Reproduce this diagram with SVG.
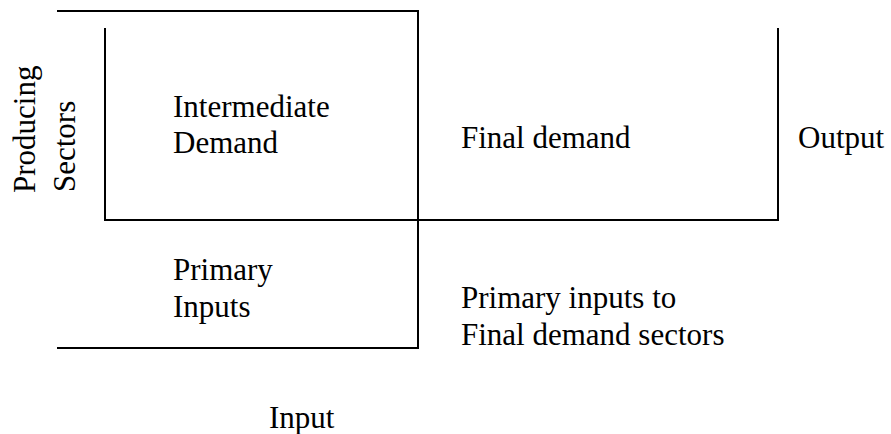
<svg xmlns="http://www.w3.org/2000/svg" width="891" height="434" viewBox="0 0 891 434">
<style>
.ln{stroke:#000;stroke-width:2;fill:none;stroke-linecap:square}
.t{font-family:"Liberation Serif","Times New Roman",serif;font-size:31px;fill:#000}
</style>
<rect width="891" height="434" fill="#fff"/>
<g id="connectors">
<polyline class="ln" points="58,11 418,11 418,348 58,348"/>
<polyline class="ln" points="105,29 105,220 778,220 778,29"/>
</g>
<g id="producing-sectors">
<text class="t" transform="translate(35,193) rotate(-90)">Producing</text>
<text class="t" transform="translate(75,192) rotate(-90)">Sectors</text>
</g>
<g id="intermediate-demand">
<text class="t" x="173" y="117">Intermediate</text>
<text class="t" x="173" y="153">Demand</text>
</g>
<g id="final-demand">
<text class="t" x="461" y="148">Final demand</text>
</g>
<g id="output">
<text class="t" x="798" y="148">Output</text>
</g>
<g id="primary-inputs">
<text class="t" x="173" y="280">Primary</text>
<text class="t" x="173" y="317">Inputs</text>
</g>
<g id="primary-final">
<text class="t" x="461" y="308">Primary inputs to</text>
<text class="t" x="461" y="345">Final demand sectors</text>
</g>
<g id="input">
<text class="t" x="269" y="428">Input</text>
</g>
</svg>
